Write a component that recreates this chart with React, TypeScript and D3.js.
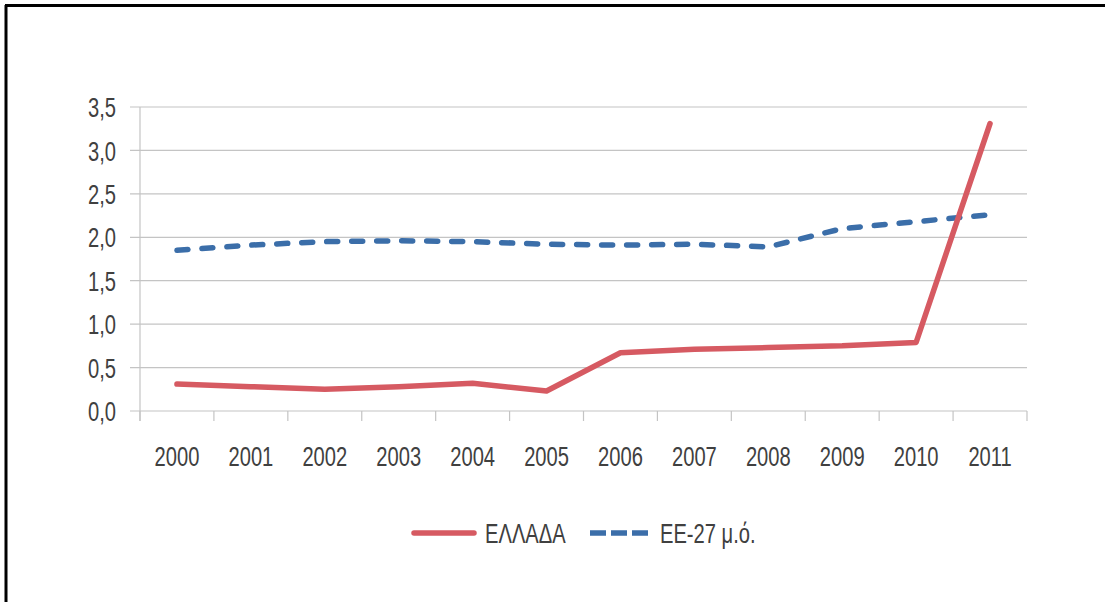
import React from "react";
import * as d3 from "d3";

const years = ["2000", "2001", "2002", "2003", "2004", "2005", "2006", "2007", "2008", "2009", "2010", "2011"];
const greece = [0.31, 0.28, 0.25, 0.28, 0.32, 0.23, 0.67, 0.71, 0.73, 0.75, 0.79, 3.31];
const eu27 = [1.85, 1.91, 1.95, 1.96, 1.95, 1.92, 1.91, 1.92, 1.89, 2.1, 2.18, 2.26];
const yTicks = [0, 0.5, 1.0, 1.5, 2.0, 2.5, 3.0, 3.5];
const seriesNames = ["ΕΛΛΑΔΑ", "ΕΕ-27 μ.ό."];

const W = 1110;
const H = 602;
const FONT = "'Liberation Sans', Arial, sans-serif";
const RED = "#d65a62";
const BLUE = "#3b6ea9";
const GRID = "#c4c4c4";
const TEXT = "#404040";
const NARROW = 0.72;
const FONT_SIZE = 28;

// Condensed label: the glyphs are squeezed horizontally around the anchor point.
function Label({
  x,
  y,
  anchor = "start",
  children,
}: {
  x: number;
  y: number;
  anchor?: "start" | "middle" | "end";
  children: React.ReactNode;
}) {
  return (
    <text
      transform={`translate(${x},${y}) scale(${NARROW},1)`}
      dy="0.36em"
      textAnchor={anchor}
      fontSize={FONT_SIZE}
      fill={TEXT}
    >
      {children}
    </text>
  );
}

export default function App() {
  const x = d3.scaleBand<string>().domain(years).range([140, 1027]).padding(0);
  const y = d3.scaleLinear().domain([0, 3.5]).range([411, 107]);
  const cx = (d: string) => (x(d) as number) + x.bandwidth() / 2;

  const line = d3
    .line<number>()
    .x((_, i) => cx(years[i]))
    .y((v) => y(v))
    .curve(d3.curveLinear);

  const fmt = (v: number) => v.toFixed(1).replace(".", ",");
  const boundaries = years.map((d) => x(d) as number).concat([x.range()[1]]);

  return (
    <svg
      width={W}
      height={H}
      style={{ position: "fixed", left: 0, top: 0, background: "#fff" }}
      fontFamily={FONT}
    >
      <rect x={0} y={0} width={W} height={H} fill="#fff" />
      {/* frame */}
      <line x1={6} y1={5} x2={6} y2={H} stroke="#000" strokeWidth={3} />
      <line x1={5} y1={5.5} x2={1105} y2={5.5} stroke="#000" strokeWidth={3} />

      {/* horizontal grid */}
      {yTicks.map((t) => (
        <g key={t}>
          <line x1={130} x2={1027} y1={y(t)} y2={y(t)} stroke={GRID} strokeWidth={1.2} />
          <Label x={116} y={y(t)} anchor="end">
            {fmt(t)}
          </Label>
        </g>
      ))}

      {/* vertical axis */}
      <line x1={140} x2={140} y1={y(3.5)} y2={y(0) + 10} stroke={GRID} strokeWidth={1.2} />

      {/* category ticks */}
      {boundaries.map((b, i) => (
        <line key={i} x1={b} x2={b} y1={y(0)} y2={y(0) + 10} stroke={GRID} strokeWidth={1.2} />
      ))}

      {/* category labels */}
      {years.map((d) => (
        <Label key={d} x={cx(d)} y={456} anchor="middle">
          {d}
        </Label>
      ))}

      {/* series */}
      <path
        d={line(eu27) || ""}
        fill="none"
        stroke={BLUE}
        strokeWidth={5.5}
        strokeDasharray="11 14"
        strokeLinecap="round"
        strokeLinejoin="round"
      />
      <path
        d={line(greece) || ""}
        fill="none"
        stroke={RED}
        strokeWidth={5.5}
        strokeLinecap="round"
        strokeLinejoin="round"
      />

      {/* legend */}
      <line x1={414} x2={474} y1={533} y2={533} stroke={RED} strokeWidth={5.5} strokeLinecap="round" />
      <Label x={485} y={533}>
        {seriesNames[0]}
      </Label>
      <line
        x1={590}
        x2={648}
        y1={533}
        y2={533}
        stroke={BLUE}
        strokeWidth={5.5}
        strokeDasharray="16 5"
        strokeLinecap="butt"
      />
      <Label x={660} y={533}>
        {seriesNames[1]}
      </Label>
    </svg>
  );
}
